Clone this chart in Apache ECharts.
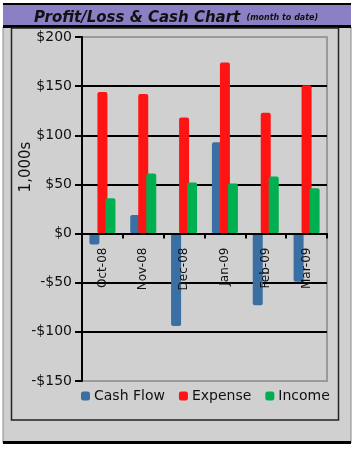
<!DOCTYPE html>
<html>
<head>
<meta charset="utf-8">
<script src="https://cdn.jsdelivr.net/npm/echarts@6/dist/echarts.min.js"></script>
<style>
html,body{margin:0;padding:0;background:#fff;}
#chart{width:359px;height:456px;}
</style>
</head>
<body>
<div id="chart"></div>
<script>
var categories = ['Oct-08', 'Nov-08', 'Dec-08', 'Jan-09', 'Feb-09', 'Mar-09'];
var cashFlow = [-11, 19, -94, 93, -73, -49];
var expense = [144, 142, 118, 174, 123, 151];
var income = [36, 61, 52, 51, 58, 46];
var yTicks = [-150, -100, -50, 0, 50, 100, 150, 200];

var FONT = 'DejaVu Sans';
var chart = echarts.init(document.getElementById('chart'), null, {renderer: 'canvas'});

function money(v) { return v < 0 ? '-$' + Math.abs(v) : '$' + v; }

var GRID_TOP = 37, GRID_H = 344;
var yMin = yTicks[0], yMax = yTicks[yTicks.length - 1];
// distance from grid bottom up to the zero line
var zeroOffset = GRID_H * (0 - yMin) / (yMax - yMin);

var option = {
  backgroundColor: '#ffffff',
  animation: false,
  textStyle: {fontFamily: FONT},
  graphic: [
    {type: 'rect', z: -10, shape: {x: 3, y: 27, width: 348, height: 416}, style: {fill: '#d0d0d0', stroke: '#8a8a8a', lineWidth: 1}},
    {type: 'rect', z: -9, shape: {x: 3, y: 4, width: 348, height: 23}, style: {fill: '#8b80c4'}},
    {type: 'rect', z: -8, shape: {x: 3, y: 3, width: 348, height: 2}, style: {fill: '#000'}},
    {type: 'rect', z: -8, shape: {x: 3, y: 25, width: 348, height: 3}, style: {fill: '#000'}},
    {type: 'rect', z: -8, shape: {x: 11.5, y: 28, width: 327, height: 392}, style: {fill: 'none', stroke: '#222', lineWidth: 1.5}},
    {type: 'rect', z: -8, shape: {x: 3, y: 441, width: 348, height: 3}, style: {fill: '#000'}}
  ],
  title: {
    text: '{a|Profit/Loss & Cash Chart} {b|(month to date)}',
    left: 29, top: 4,
    textStyle: {
      rich: {
        a: {fontFamily: FONT, fontSize: 15, fontWeight: 'bold', fontStyle: 'italic', color: '#111'},
        b: {fontFamily: FONT, fontSize: 8, fontWeight: 'bold', fontStyle: 'italic', color: '#111'}
      }
    }
  },
  legend: {
    top: 384, left: 76,
    itemWidth: 9, itemHeight: 9, itemGap: 14,
    icon: 'roundRect',
    textStyle: {fontFamily: FONT, fontSize: 14, color: '#111', padding: [0, 0, 0, -1]},
    data: ['Cash Flow', 'Expense', 'Income']
  },
  grid: {
    left: 82, top: GRID_TOP, width: 245, height: GRID_H,
    show: true, backgroundColor: '#d0d0d0', borderColor: '#9a9a9a', borderWidth: 2
  },
  xAxis: {
    type: 'category',
    data: categories,
    position: 'bottom',
    offset: -zeroOffset,
    z: 5,
    axisLine: {onZero: false, lineStyle: {color: '#000', width: 2}},
    axisTick: {show: true, length: 5, lineStyle: {color: '#000', width: 2}},
    axisLabel: {rotate: 90, fontFamily: FONT, fontSize: 12, color: '#111', margin: 14},
    splitLine: {show: false}
  },
  yAxis: {
    type: 'value',
    min: yMin, max: yMax, interval: 50,
    name: '1,000s',
    nameLocation: 'middle', nameRotate: 90, nameGap: 48,
    nameMoveOverlap: false,
    nameTextStyle: {fontFamily: FONT, fontSize: 15, color: '#111', padding: [0, 0, 0, 84]},
    axisLine: {show: true, lineStyle: {color: '#000', width: 2}},
    axisTick: {show: true, length: 7, lineStyle: {color: '#000', width: 2}},
    axisLabel: {fontFamily: FONT, fontSize: 14, color: '#111', margin: 10, formatter: money},
    splitLine: {show: true, lineStyle: {color: ['#9a9a9a', '#000', '#000', '#000', '#000', '#000', '#000', '#9a9a9a'], width: 2}}
  },
  series: [
    {name: 'Cash Flow', type: 'bar', data: cashFlow, barWidth: 10, barGap: '-20%', itemStyle: {color: '#3a6fa3', borderRadius: 2}},
    {name: 'Expense', type: 'bar', data: expense, barWidth: 10, barGap: '-20%', itemStyle: {color: '#ff1414', borderRadius: 2}},
    {name: 'Income', type: 'bar', data: income, barWidth: 10, barGap: '-20%', itemStyle: {color: '#00b050', borderRadius: 2}}
  ]
};
chart.setOption(option);
</script>
</body>
</html>
